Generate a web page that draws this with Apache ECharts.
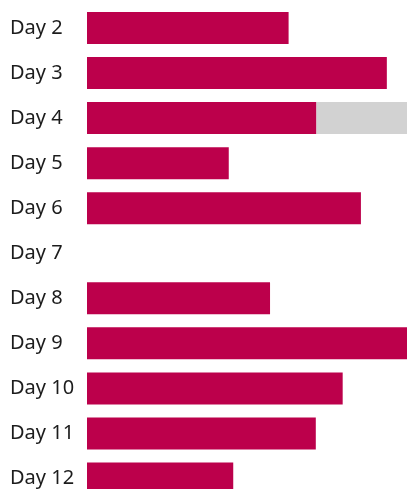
<!DOCTYPE html>
<html>
<head>
<meta charset="utf-8">
<script src="https://cdn.jsdelivr.net/npm/echarts@6/dist/echarts.min.js"></script>
<style>
  html,body{margin:0;padding:0;background:#fff;overflow:hidden;}
  #chart{width:407px;height:501px;}
</style>
</head>
<body>
<div id="chart"></div>
<script>
const days=['Day 2','Day 3','Day 4','Day 5','Day 6','Day 7','Day 8','Day 9','Day 10','Day 11','Day 12'];
const values=[63,93.7,71.7,44.3,85.6,null,57.2,100,79.9,71.5,45.7];
const rest=[null,null,28.3,null,null,null,null,null,null,null,null];

// chart is a bit taller than the window, the last row gets cut like in the original
const chart=echarts.init(document.getElementById('chart'));
chart.setOption({
  animation:false,
  grid:{left:87,right:0,top:5.5,bottom:0,containLabel:false},
  xAxis:{
    type:'value',
    min:0,
    max:100,
    show:false
  },
  yAxis:{
    type:'category',
    data:days,
    inverse:true,
    axisLine:{show:false},
    axisTick:{show:false},
    axisLabel:{
      align:'left',
      margin:77,
      fontFamily:'Noto Sans',
      fontSize:20,
      color:'#1c1c1c'
    }
  },
  series:[
    {
      name:'value',
      type:'bar',
      stack:'a',
      data:values,
      barWidth:32,
      itemStyle:{color:'#bc004b'}
    },
    {
      name:'rest',
      type:'bar',
      stack:'a',
      data:rest,
      barWidth:32,
      itemStyle:{color:'#d2d2d2'}
    }
  ]
});
</script>
</body>
</html>
